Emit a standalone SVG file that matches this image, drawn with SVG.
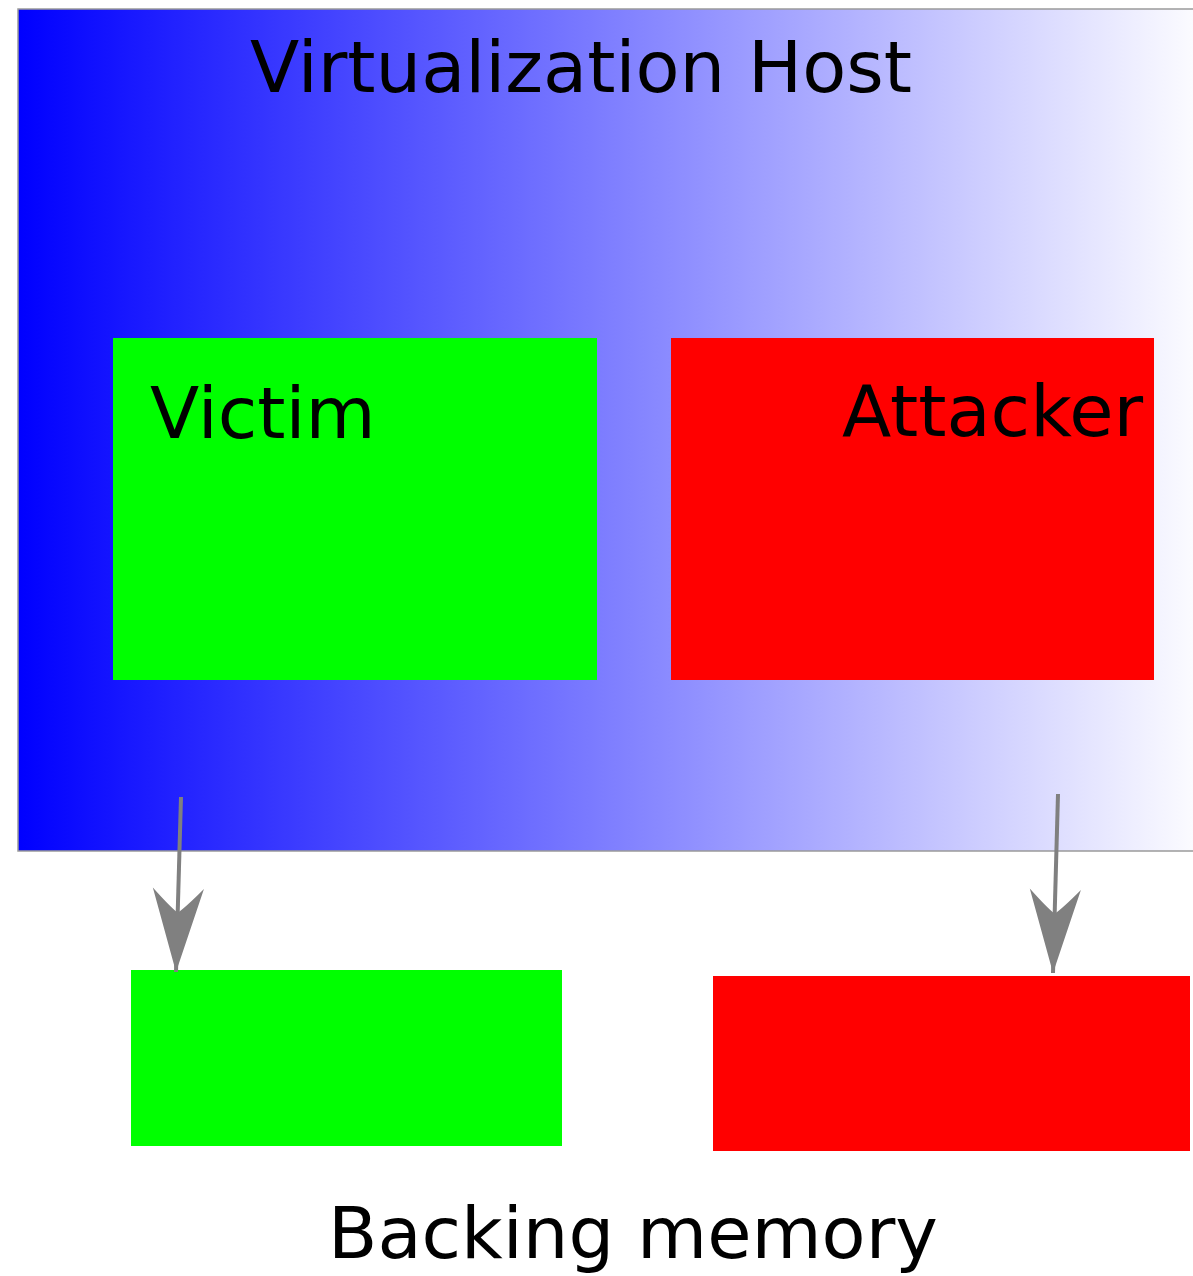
<svg xmlns="http://www.w3.org/2000/svg" width="1193" height="1276" viewBox="0 0 1193 1276">
  <defs>
    <linearGradient id="hostGrad" gradientUnits="userSpaceOnUse" x1="18" y1="0" x2="1212" y2="0">
      <stop offset="0" stop-color="#0000ff"/>
      <stop offset="1" stop-color="#ffffff"/>
    </linearGradient>
    <marker id="arrow" markerUnits="userSpaceOnUse" markerWidth="90" markerHeight="60" viewBox="-84 -27 88 54" refX="0" refY="0" orient="auto">
      <path d="M0,0 L-82,-25 Q-64,-8 -58,0 Q-64,8 -82,25 Z" fill="#808080"/>
    </marker>
    <style>
      .label { font-family: "DejaVu Sans", "Liberation Sans", sans-serif; font-size: 72px; fill: #000000; }
      .conn { stroke: #808080; stroke-width: 4; fill: none; }
    </style>
  </defs>
  <rect width="1193" height="1276" fill="#ffffff"/>
  <g id="host">
    <rect x="18" y="9" width="1190" height="842" fill="url(#hostGrad)" stroke="#9a9a9a" stroke-width="1.5"/>
    <text class="label" x="250" y="92">Virtualization Host</text>
  </g>
  <g id="victim">
    <rect x="113" y="338" width="484" height="342" fill="#00ff00"/>
    <text class="label" x="150" y="438">Victim</text>
  </g>
  <g id="attacker">
    <rect x="671" y="338" width="483" height="342" fill="#ff0000"/>
    <text class="label" x="842" y="436">Attacker</text>
  </g>
  <g id="victim-memory">
    <rect x="131" y="970" width="431" height="176" fill="#00ff00"/>
  </g>
  <g id="attacker-memory">
    <rect x="713" y="976" width="477" height="175" fill="#ff0000"/>
  </g>
  <g id="backing-label">
    <text class="label" x="328" y="1258">Backing memory</text>
  </g>
  <g id="connectors">
    <line class="conn" x1="181" y1="797" x2="176" y2="972" marker-end="url(#arrow)"/>
    <line class="conn" x1="1058" y1="794" x2="1053" y2="973" marker-end="url(#arrow)"/>
  </g>
</svg>
